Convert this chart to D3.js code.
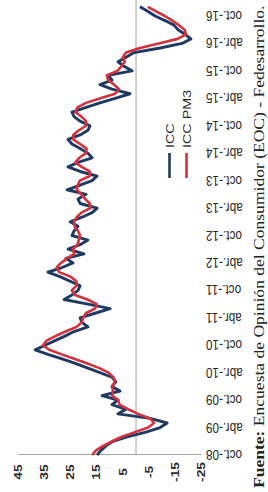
<!DOCTYPE html>
<html><head><meta charset="utf-8">
<script src="https://cdn.jsdelivr.net/npm/d3@7"></script>
<style>html,body{margin:0;padding:0;background:#fff;}svg{display:block;}</style>
</head><body>
<svg id="c" width="268" height="492"></svg>
<script>
// ---- data ----
const tickLabels = ["oct.-08","abr.-09","oct.-09","abr.-10","oct.-10","abr.-11","oct.-11","abr.-12","oct.-12","abr.-13","oct.-13","abr.-14","oct.-14","abr.-15","oct.-15","abr.-16","oct.-16"];
const valueTicks = [45,35,25,15,5,-5,-15,-25];
const seriesNames = ["ICC","ICC PM3"];
// monthly, oct-08 .. dec-16
const icc = [14.9,13.4,11.5,8.8,3.1,-3.8,-9.2,-11.9,-5.4,6.9,3.8,9.2,6.9,13.0,6.1,9.2,7.7,9.2,13.8,18.4,
  23.0,28.3,33.7,38.6,34.8,31.0,27.2,23.7,18.4,20.7,21.4,15.7,9.9,18.4,27.5,24.5,22.2,21.4,25.2,29.1,
  33.7,28.3,24.1,26.8,19.9,26.0,21.4,18.4,24.5,23.7,22.2,25.2,20.7,16.8,14.9,21.4,22.2,19.1,26.4,21.4,
  16.8,14.9,21.4,26.0,22.2,16.8,18.4,21.4,24.5,26.0,21.4,18.4,17.6,21.4,23.7,24.5,19.1,13.8,8.0,2.3,
  9.2,13.8,9.2,10.7,1.5,4.6,6.9,3.8,0.8,-9.2,-17.6,-21.0,-18.7,-16.1,-14.5,-11.1,-7.3,-4.6,-1.5];
const iccPM3 = [16.8,15.3,12.6,9.2,5.4,0.4,-4.6,-6.9,-5.4,-0.8,3.0,6.3,6.8,9.2,8.8,9.2,8.0,8.7,10.5,14.0,
  18.6,23.4,28.4,33.2,35.6,34.2,30.8,27.0,22.8,20.8,20.2,19.2,15.7,15.0,18.6,23.3,24.6,22.8,22.8,25.1,
  29.4,30.4,28.7,26.4,23.6,24.2,22.4,21.9,21.4,22.2,23.5,23.7,22.7,20.9,17.5,17.7,19.5,20.9,22.6,22.3,
  21.5,17.7,17.7,20.8,23.2,21.7,19.1,18.9,21.4,24.0,24.0,21.9,19.1,19.1,20.9,23.2,22.4,19.1,13.6,8.0,
  6.5,8.4,10.7,11.2,7.1,5.6,4.3,5.1,3.8,-1.5,-8.7,-15.9,-19.1,-18.6,-16.4,-13.9,-11.0,-7.7,-4.5];
const sourceBold = "Fuente:";
const sourceRest = " Encuesta de Opinión del Consumidor (EOC) - Fedesarrollo.";

// ---- layout (chart drawn rotated 90° counter-clockwise) ----
const S = 1.25; // vertical stretch of the picture
const blue = "#1f3a62", red = "#d4313d", grid = "#a3a3a3";
const svg = d3.select("#c");
const y = d3.scaleLinear().domain([0, 96]).range([455, 16]);   // month index -> screen y
const x = d3.scaleLinear().domain([45, -25]).range([18.4, 201.4]); // value -> screen x

// zero line and value axis line
svg.append("line").attr("x1", x(0)).attr("x2", x(0)).attr("y1", 0).attr("y2", y(0) - 0.5)
  .attr("stroke", grid).attr("stroke-width", 1);
svg.append("line").attr("x1", x(45)).attr("x2", x(-25)).attr("y1", y(0) - 0.5).attr("y2", y(0) - 0.5)
  .attr("stroke", grid).attr("stroke-width", 1);

// series
const line = d3.line().x(d => x(d)).y((d, i) => y(i));
svg.append("path").datum(icc).attr("d", line).attr("fill", "none")
  .attr("stroke", blue).attr("stroke-width", 2.9).attr("stroke-linejoin", "round");
svg.append("path").datum(iccPM3).attr("d", line).attr("fill", "none")
  .attr("stroke", red).attr("stroke-width", 2.6).attr("stroke-linejoin", "round");

// value tick labels (bottom, reading upward)
svg.selectAll(".vt").data(valueTicks).join("text").attr("class", "vt")
  .attr("transform", d => `translate(${x(d)},472) scale(1,${S}) rotate(-90)`)
  .attr("text-anchor", "middle").attr("dominant-baseline", "central")
  .style("font", "bold 11px 'Liberation Sans', Arial, sans-serif").attr("fill", "#2a2a2a")
  .text(d => d);

// date tick labels (right, upside down)
svg.selectAll(".dt").data(tickLabels).join("text").attr("class", "dt")
  .attr("transform", (d, i) => `translate(206,${y(i * 6)}) scale(1,${S}) rotate(180)`)
  .attr("text-anchor", "end").attr("dominant-baseline", "central")
  .style("font", "11.8px 'Liberation Sans', Arial, sans-serif").attr("fill", "#2a2a2a")
  .text(d => d);

// legend
const leg = [{name: seriesNames[0], c: blue, lx: 169.5}, {name: seriesNames[1], c: red, lx: 186.5}];
leg.forEach(l => {
  svg.append("line").attr("x1", l.lx).attr("x2", l.lx).attr("y1", 153).attr("y2", 178)
    .attr("stroke", l.c).attr("stroke-width", 2.6);
  svg.append("text").attr("transform", `translate(${l.lx + 1},148) scale(1,${S}) rotate(-90)`)
    .attr("text-anchor", "start").attr("dominant-baseline", "central")
    .style("font", "11.5px 'Liberation Sans', Arial, sans-serif").attr("fill", "#2a2a2a")
    .text(l.name);
});

// source
const src = svg.append("text").attr("transform", `translate(264,488) scale(1,${S}) rotate(-90)`)
  .attr("text-anchor", "start")
  .style("font-family", "'Liberation Serif', 'Times New Roman', serif").style("font-size", "13px")
  .attr("fill", "#222");
src.append("tspan").attr("font-weight", "bold").text(sourceBold);
src.append("tspan").text(sourceRest);
const len = src.node().getComputedTextLength();
src.style("font-size", (13 * 386 / len).toFixed(2) + "px");
</script>
</body></html>
